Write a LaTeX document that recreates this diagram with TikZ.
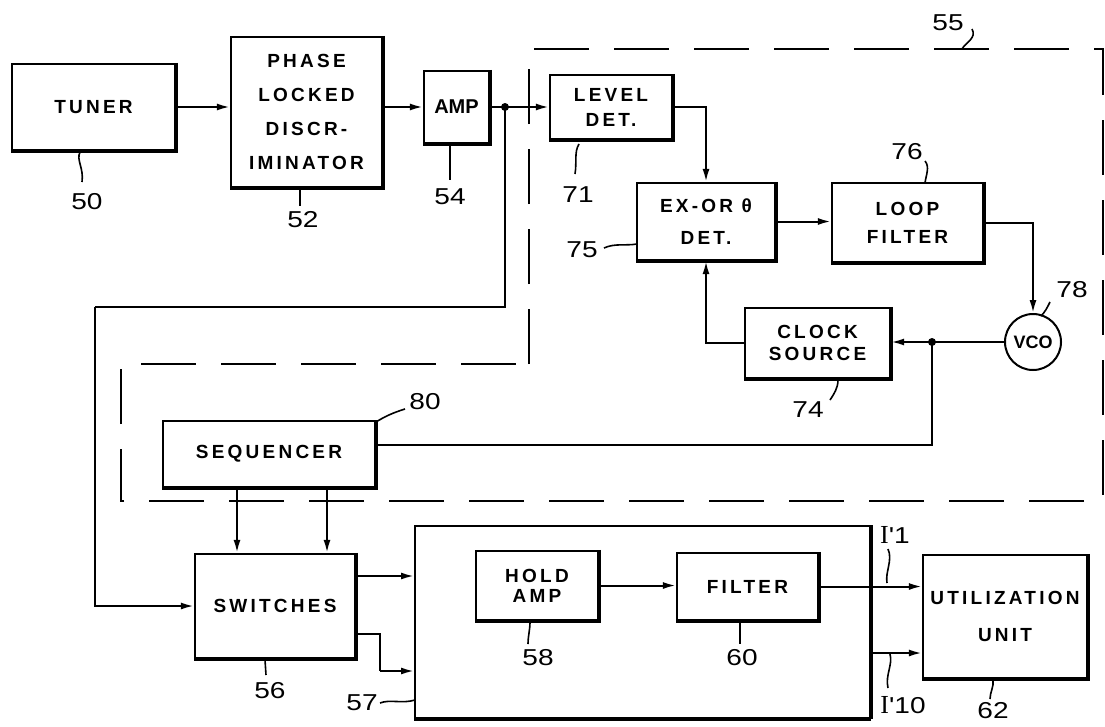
\documentclass[tikz,border=0pt]{standalone}
\usepackage{fontspec}
\setmainfont{Liberation Sans}
\newfontfamily\boxfont{Liberation Sans}[LetterSpace=17]
\newfontfamily\numfont{Liberation Sans}[FakeStretch=1.22]
\newfontfamily\serifI{Liberation Serif}
\usetikzlibrary{arrows.meta}
\newcommand\heavyedge[1]{\draw[line width=4pt] (#1.north east) -- (#1.south east) -- (#1.south west);}
\begin{document}
\begin{tikzpicture}[x=1pt,y=-1pt,
  box/.style={draw, line width=2.3pt, align=center, inner sep=0pt,
    font=\boxfont\bfseries\fontsize{19}{28}\selectfont},
  wire/.style={line width=2pt},
  arr/.style={wire, -{Latex[length=13pt,width=7pt]}},
  num/.style={font=\numfont\fontsize{23}{23}\selectfont, inner sep=0pt},
  lead/.style={line width=1.6pt},
  outline55/.style={line width=1.8pt, dash pattern=on 55pt off 25pt},
  jdot/.style={circle, fill, inner sep=0pt, minimum size=8pt}]
\useasboundingbox (0,0) rectangle (1105,726);

% ---- boxes
\node[box, minimum width=163pt, minimum height=86pt] (tuner) at (93.5,107) {TUNER};
\node[box, minimum width=151pt, minimum height=150pt, font=\boxfont\bfseries\fontsize{19}{34}\selectfont] (pld) at (306.5,112) {PHASE\\LOCKED\\DISCR-\\IMINATOR};
\node[box, minimum width=65pt, minimum height=72pt, font=\bfseries\fontsize{20}{20}\selectfont] (amp) at (456.5,107) {AMP};
\node[box, minimum width=122pt, minimum height=64pt, font=\boxfont\bfseries\fontsize{19}{25}\selectfont] (level) at (611,107) {LEVEL\\DET.};
\node[box, minimum width=138pt, minimum height=77pt, font=\boxfont\bfseries\fontsize{19}{32}\selectfont] (exor) at (706,221.5) {EX-OR θ\\DET.};
\node[box, minimum width=151pt, minimum height=79pt] (loop) at (907.5,222.5) {LOOP\\FILTER};
\node[draw, circle, line width=2pt, minimum size=56pt, inner sep=0pt,
      font=\bfseries\fontsize{18}{18}\selectfont] (vco) at (1033,342) {VCO};
\node[box, minimum width=145pt, minimum height=70pt, font=\boxfont\bfseries\fontsize{19}{22}\selectfont] (clock) at (817.5,343) {CLOCK\\SOURCE};
\node[box, minimum width=212pt, minimum height=66pt] (seq) at (269,454) {SEQUENCER};
\node[box, minimum width=160pt, minimum height=104pt] (sw) at (275,606) {SWITCHES};
\node[draw, line width=2pt, minimum width=455pt, minimum height=192pt, inner sep=0pt] (big) at (642.5,622) {};
\node[box, minimum width=122pt, minimum height=69pt, font=\boxfont\bfseries\fontsize{19}{20}\selectfont] (hold) at (537,585.5) {HOLD\\AMP};
\node[box, minimum width=141pt, minimum height=67pt] (filt) at (747.5,586.5) {FILTER};
\node[box, minimum width=164pt, minimum height=123pt, font=\boxfont\bfseries\fontsize{19}{37}\selectfont] (util) at (1005,616.5) {UTILIZATION\\UNIT};

\heavyedge{tuner}\heavyedge{pld}\heavyedge{amp}\heavyedge{level}\heavyedge{exor}
\heavyedge{loop}\heavyedge{clock}\heavyedge{seq}\heavyedge{sw}\heavyedge{hold}
\heavyedge{filt}\heavyedge{util}
\draw[line width=4.5pt] (big.north east) -- (big.south east);
\draw[line width=3pt] (big.south east) -- (big.south west);

% ---- dashed outline 55
\draw[outline55] (529,364) -- (529,49) -- (1103,49) -- (1103,501) -- (121,501) -- (121,364) -- cycle;

% ---- junctions and corners
\node[jdot] (j1) at (505,107) {};
\node[jdot] (j2) at (932,342) {};
\coordinate (c1) at (505,307);
\coordinate (c2) at (95,307);
\coordinate (c3) at (932,445);
\coordinate (s2a) at (380,634);
\coordinate (s2b) at (380,671);
\coordinate (b2) at (870,653);

% ---- connectors
\draw[arr] (tuner.east) -- (tuner.east -| pld.west);
\draw[arr] (amp.east -| pld.east) -- (amp.west);
\draw[arr] (amp.east) -- (amp.east -| level.west);
\draw[wire] (j1.center) -- (c1) -- (c2);
\draw[arr] (c2) |- (sw.west);
\draw[arr] (level.east) -| (exor.north);
\draw[arr] (exor.east) -- (exor.east -| loop.west);
\draw[arr] (loop.east) -| (vco.north);
\draw[arr] (vco.west) -- (vco.west -| clock.east);
\draw[wire] (j2.center) -- (c3) -- (c3 -| seq.east);
\draw[arr] (clock.west) -| (exor.south);
\draw[arr] ([xshift=-32pt]seq.south) -- ([xshift=-32pt]seq.south |- sw.north);
\draw[arr] ([xshift=58pt]seq.south) -- ([xshift=58pt]seq.south |- sw.north);
\draw[arr] ([yshift=30pt]sw.east) -- ([yshift=30pt]sw.east -| big.west);
\draw[wire] ([yshift=-28pt]sw.east) -- (s2a) -- (s2b);
\draw[arr] (s2b) -- (s2b -| big.west);
\draw[arr] (hold.east) -- (hold.east -| filt.west);
\draw[arr] (filt.east) -- (filt.east -| util.west);
\draw[arr] (b2) -- (b2 -| util.west);

% ---- reference numerals
\node[num] (n50) at (87,202) {50};
\draw[lead] (80,152) .. controls (76,160) and (84,168) .. (82,182);
\node[num] (n52) at (303,220) {52};
\draw[lead] (300,189) -- (300,206);
\node[num] (n54) at (450,197) {54};
\draw[lead] (450,145) -- (450,180);
\node[num] (n55) at (948,23) {55};
\draw[lead] (972,29) .. controls (977,38) and (966,42) .. (962,49);
\node[num] (n71) at (578,195) {71};
\draw[lead] (579,144) .. controls (574,152) and (577,162) .. (575,174);
\node[num] (n75) at (582,250) {75};
\draw[lead] (604,248) .. controls (615,243) and (625,246) .. (637,244);
\node[num] (n76) at (907,152) {76};
\draw[lead] (925,161) .. controls (930,167) and (926,175) .. (925,183);
\node[num] (n78) at (1072,290) {78};
\draw[lead] (1050,302) .. controls (1047,308) and (1045,312) .. (1041,316);
\node[num] (n74) at (808,410) {74};
\draw[lead] (838,380) .. controls (838,388) and (834,394) .. (830,400);
\node[num] (n80) at (425,402) {80};
\draw[lead] (405,409) .. controls (392,413) and (384,417) .. (376,422);
\node[num] (n56) at (270,691) {56};
\draw[lead] (265,660) -- (266,675);
\node[num] (n57) at (362,703) {57};
\draw[lead] (380,703) .. controls (390,699) and (402,704) .. (415,700);
\node[num] (n58) at (538,658) {58};
\draw[lead] (530,622) .. controls (530,630) and (528,636) .. (528,644);
\node[num] (n60) at (742,658) {60};
\draw[lead] (740,622) -- (740,644);
\node[num] (n62) at (993,711) {62};
\draw[lead] (993,680) .. controls (994,687) and (990,692) .. (990,699);
\node[num] (nI1) at (895,535) {{\serifI\fontsize{26}{26}\selectfont I}'1};
\draw[lead] (888,549) .. controls (893,560) and (885,572) .. (887,583);
\node[num] (nI10) at (903,705) {{\serifI\fontsize{26}{26}\selectfont I}'10};
\draw[lead] (890,654) .. controls (893,665) and (885,675) .. (888,688);
\end{tikzpicture}
\end{document}
